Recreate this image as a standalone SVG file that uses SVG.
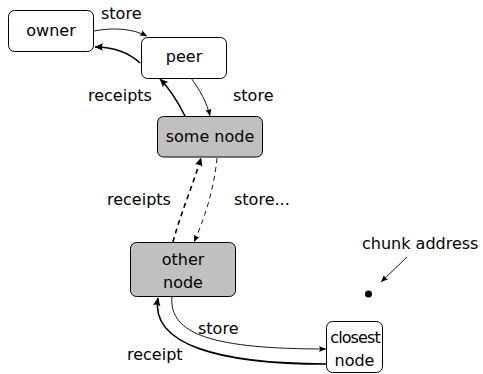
<svg xmlns="http://www.w3.org/2000/svg" width="483" height="374" viewBox="0 0 483 374">
<style>
  .box { fill: #ffffff; stroke: #000000; stroke-width: 1; }
  .gray { fill: #c0c0c0; }
  text { font-family: "DejaVu Sans", "Liberation Sans", sans-serif; font-size: 16px; fill: #000000; }
  .c { text-anchor: middle; }
  .thin { fill: none; stroke: #000; stroke-width: 0.9; marker-end: url(#ah); }
  .thick { fill: none; stroke: #000; stroke-width: 1.6; marker-end: url(#ahb); }
  .dash { stroke-dasharray: 5 4; }
</style>
<defs>
  <marker id="ah" viewBox="-8 -4 9 8" refX="0" refY="0" markerWidth="9" markerHeight="8" markerUnits="userSpaceOnUse" orient="auto">
    <path d="M0,0 L-7,-3 Q-5,0 -7,3 Z" fill="#000"/>
  </marker>
  <marker id="ahb" viewBox="-9 -5 10 10" refX="0" refY="0" markerWidth="10" markerHeight="10" markerUnits="userSpaceOnUse" orient="auto">
    <path d="M0.5,0 L-8,-3.8 Q-5.5,0 -8,3.8 Z" fill="#000"/>
  </marker>
</defs>

<g id="connectors">
  <path class="thin" d="M94,31 C115,27 133,29 147,36"/>
  <path class="thick" d="M140,63 C128,52 112,47 95,47"/>
  <path class="thin" d="M191,78 C200,90 207,103 210,116"/>
  <path class="thick" d="M185,116 C178,102 170,89 160,79"/>
  <path class="thick dash" d="M173,242 C180,215 193,185 201,158"/>
  <path class="thin dash" d="M217,158 C214,190 204,220 194,242"/>
  <path class="thin" d="M172,296 C168,335 215,349 326,349"/>
  <path class="thick" d="M326,364 C220,364 150,345 158,298"/>
  <path class="thin" d="M407,257 L381,282"/>
</g>

<g id="labels">
  <text x="101" y="19">store</text>
  <text x="88" y="101">receipts</text>
  <text x="233" y="101">store</text>
  <text x="107" y="205">receipts</text>
  <text x="234" y="205">store...</text>
  <text x="198" y="334">store</text>
  <text x="127" y="360">receipt</text>
</g>

<g id="owner">
  <rect class="box" x="8.5" y="10.5" width="85" height="41" rx="6"/>
  <text class="c" x="51" y="36">owner</text>
</g>
<g id="peer">
  <rect class="box" x="141.5" y="37.5" width="85" height="41" rx="6"/>
  <text class="c" x="184" y="62">peer</text>
</g>
<g id="some-node">
  <rect class="box gray" x="157.5" y="116.5" width="105" height="40.5" rx="6"/>
  <text class="c" x="210" y="142">some node</text>
</g>
<g id="other-node">
  <rect class="box gray" x="130.5" y="242.5" width="105" height="54" rx="6"/>
  <text class="c" x="183" y="265">other</text>
  <text class="c" x="183" y="288">node</text>
</g>
<g id="closest-node">
  <rect class="box" x="326.5" y="321.5" width="56" height="51" rx="6"/>
  <text class="c" x="355" y="343" letter-spacing="-0.9">closest</text>
  <text class="c" x="354.5" y="366">node</text>
</g>
<g id="chunk-address">
  <text x="362" y="249">chunk address</text>
  <circle cx="368.5" cy="294" r="3.5" fill="#000"/>
</g>
</svg>
